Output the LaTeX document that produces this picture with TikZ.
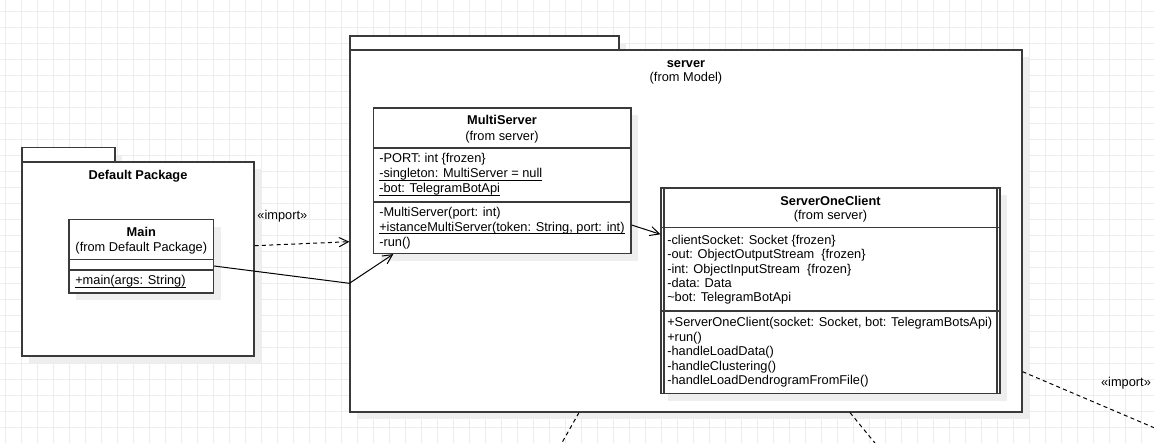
\documentclass[tikz,border=0pt]{standalone}
\usepackage{fontspec}
\setmainfont{Liberation Sans}
\usetikzlibrary{arrows.meta,fit}
\definecolor{gridline}{HTML}{EDEDED}
\definecolor{shadegrey}{HTML}{EEEEEE}
\definecolor{outline}{HTML}{3A3A3A}
% underlined (static) member, rule a little below the baseline
\newcommand{\ulin}[1]{\setbox0=\hbox{#1}\rlap{\rule[-2.2pt]{\wd0}{0.6pt}}\box0}

\begin{document}
\begin{tikzpicture}[x=0.75pt,y=-0.75pt,
  txt/.style={font=\fontsize{9.6pt}{11.5pt}\selectfont, inner sep=0pt, text=black},
  member/.style={txt, anchor=base west},
  caption/.style={txt, anchor=base},
  heading/.style={caption, font=\bfseries\fontsize{9.6pt}{11.5pt}\selectfont},
  umlbox/.style={draw=outline, line width=0.9pt, fill=white, inner sep=0pt},
  shade/.style={fill=shadegrey},
  divider/.style={draw=outline, line width=0.9pt},
  assoc/.style={draw=black, line width=0.75pt, -{Straight Barb[length=7pt,width=7pt]}},
  dep/.style={assoc, dash pattern=on 3pt off 2.5pt},
  deptail/.style={draw=black, line width=0.75pt, dash pattern=on 3pt off 2.5pt},
]
\useasboundingbox (0,0) rectangle (1154,443);
\clip (0,0) rectangle (1154,443);

% drawing sheet with grid
\fill[white] (0,0) rectangle (1154,443);
\foreach \gx in {0,...,71}
  \draw[gridline, line width=0.75pt] ({5.5+16*\gx},0) -- ({5.5+16*\gx},443);
\foreach \gy in {0,...,27}
  \draw[gridline, line width=0.75pt] (0,{11.7+16*\gy}) -- (1154,{11.7+16*\gy});

% ---------- package: Default Package ----------
\fill[shade] (29,154.5) rectangle (122,169);
\fill[shade] (29,169) rectangle (261,363);
\node[umlbox, fit={(22,147.5)(115,162)}] (deftab) {};
\node[umlbox, fit={(22,162)(254,356)}] (defpkg) {};
\node[heading] (deftitle) at (138,179.5) {Default Package};

% class Main
\fill[shade] (76,226.5) rectangle (220.5,300);
\node[umlbox, fit={(69,219.5)(213.5,293)}] (main) {};
\draw[divider] (main.west |- 0,259.5) -- (main.east |- 0,259.5);
\draw[divider] (main.west |- 0,270) -- (main.east |- 0,270);
\node[heading] (maintitle) at (141.3,236.5) {Main};
\node[caption] (mainfrom) at (141.3,251.5) {(from Default Package)};
\node[member] (mainop) at (75,284.5) {\ulin{+main(args: String)}};

% ---------- package: server ----------
\fill[shade] (357,43) rectangle (626,57);
\fill[shade] (357,57) rectangle (1029,419);
\node[umlbox, fit={(350,36)(619,50)}] (srvtab) {};
\node[umlbox, fit={(350,50)(1022,412)}] (srvpkg) {};
\node[heading] (srvtitle) at (686,67.5) {server};
\node[caption] (srvfrom) at (686,81.5) {(from Model)};

% class MultiServer
\fill[shade] (380.5,115) rectangle (638,260.5);
\node[umlbox, fit={(373.5,108)(631,253.5)}] (ms) {};
\draw[divider] (ms.west |- 0,148) -- (ms.east |- 0,148);
\draw[divider] (ms.west |- 0,202) -- (ms.east |- 0,202);
\node[heading] (mstitle) at (502,124.5) {MultiServer};
\node[caption] (msfrom) at (502,140.5) {(from server)};
\node[member] (msa1) at (379,162.5) {-PORT: int \{frozen\}};
\node[member] (msa2) at (379,177.5) {\ulin{-singleton: MultiServer = null}};
\node[member] (msa3) at (379,192.5) {\ulin{-bot: TelegramBotApi}};
\node[member] (mso1) at (379,216) {-MultiServer(port: int)};
\node[member] (mso2) at (379,231) {\ulin{+istanceMultiServer(token: String, port: int)}};
\node[member] (mso3) at (379,246) {-run()};

% active class ServerOneClient (double side borders)
\fill[shade] (668,195) rectangle (1007,400.5);
\node[umlbox, fit={(661,188)(1000,393.5)}] (soc) {};
\draw[divider] (soc.north west -| 664,0) -- (soc.south west -| 664,0);
\draw[divider] (soc.north east -| 997,0) -- (soc.south east -| 997,0);
\draw[divider] (soc.west |- 0,227.5) -- (soc.east |- 0,227.5);
\draw[divider] (soc.west |- 0,311) -- (soc.east |- 0,311);
\node[heading] (soctitle) at (830.5,205) {ServerOneClient};
\node[caption] (socfrom) at (830.5,219.5) {(from server)};
\node[member] (soca1) at (667,244.5) {-clientSocket: Socket \{frozen\}};
\node[member] (soca2) at (667,258.8) {-out: ObjectOutputStream \ \{frozen\}};
\node[member] (soca3) at (667,273) {-int: ObjectInputStream \ \{frozen\}};
\node[member] (soca4) at (667,287.3) {-data: Data};
\node[member] (soca5) at (667,301.5) {\textasciitilde bot: TelegramBotApi};
\node[member] (soco1) at (667,326.5) {+ServerOneClient(socket: Socket, bot: TelegramBotsApi)};
\node[member] (soco2) at (667,341) {+run()};
\node[member] (soco3) at (667,355.5) {-handleLoadData()};
\node[member] (soco4) at (667,370) {-handleClustering()};
\node[member] (soco5) at (667,384.5) {-handleLoadDendrogramFromFile()};

% ---------- connectors ----------
\draw[dep] (defpkg.east |- 0,245.7) -- (srvpkg.west |- 0,241.7);
\node[txt] (imp1) at (282.3,215.7) {«import»};
\draw[assoc] (main.east |- 0,266) -- (srvpkg.west |- 0,283.3) -- (ms.south -| 393.3,0);
\draw[assoc] (ms.east |- 0,225) -- (soc.west |- 0,234.3);

% imports leaving the sheet
\coordinate (offR) at (1170,434.5);
\coordinate (offB1) at (556.7,452);
\coordinate (offB2) at (882.3,452);
\draw[deptail] (srvpkg.east |- 0,371.7) -- (offR);
\node[txt] (imp2) at (1126,383) {«import»};
\draw[deptail] (srvpkg.south -| 579,0) -- (offB1);
\draw[deptail] (srvpkg.south -| 850,0) -- (offB2);
\end{tikzpicture}
\end{document}
